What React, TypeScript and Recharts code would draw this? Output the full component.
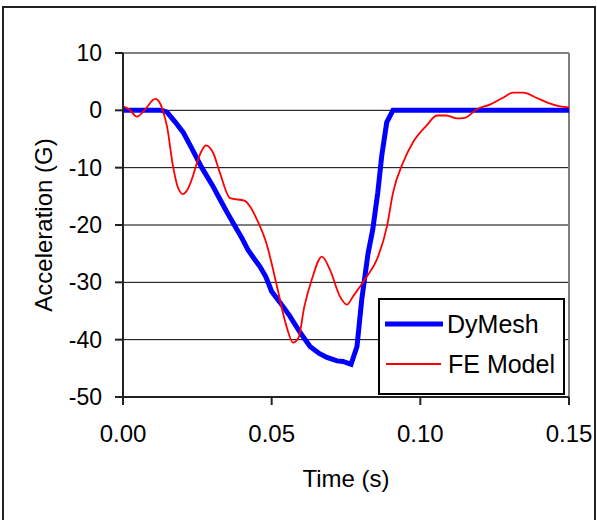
import React from "react";
import {
  LineChart,
  Line,
  XAxis,
  YAxis,
  CartesianGrid,
  ReferenceLine,
  Legend,
} from "recharts";

// Time samples (s) and acceleration (G) for each model
const dyMeshTime = [
  0, 0.013, 0.0148, 0.0175, 0.0202, 0.023, 0.0265, 0.03, 0.0326, 0.035, 0.037,
  0.04, 0.042, 0.044, 0.046, 0.048, 0.05, 0.0528, 0.056, 0.0595, 0.0629, 0.066,
  0.0686, 0.072, 0.074, 0.0767, 0.0787, 0.0803, 0.0824, 0.084, 0.0857, 0.087,
  0.0887, 0.0908, 0.15,
];
const dyMeshAccel = [
  0, 0, -0.3, -2, -3.8, -6.5, -10, -13, -15.5, -17.8, -19.6, -22.3, -24.3,
  -25.8, -27.2, -29, -31.6, -33.5, -35.8, -38.7, -41.2, -42.4, -43.1, -43.7,
  -43.8, -44.3, -41.2, -33, -25, -20.8, -14.3, -8, -2.1, 0, 0,
];

const feTime = [
  0, 0.002, 0.0047, 0.0075, 0.0108, 0.0125, 0.0135, 0.0148, 0.0168, 0.0185,
  0.0202, 0.0215, 0.0235, 0.0249, 0.0265, 0.0279, 0.0303, 0.0326, 0.036, 0.041,
  0.043, 0.045, 0.0484, 0.0505, 0.052, 0.055, 0.0572, 0.059, 0.061, 0.0635,
  0.0669, 0.0696, 0.073, 0.0753, 0.0773, 0.082, 0.0854, 0.0888, 0.0908, 0.0942,
  0.0975, 0.102, 0.1056, 0.1087, 0.1123, 0.115, 0.119, 0.1234, 0.1278, 0.1312,
  0.1346, 0.139, 0.1425, 0.147, 0.15,
];
const feAccel = [
  0.7, 0.2, -1.1, 0.2, 2.0, 1.2, -0.2, -2.8, -9.7, -13.5, -14.6, -14, -11.5,
  -9.1, -7, -6.1, -7.4, -10.9, -15.3, -15.8, -17, -19, -23.5, -27.8, -31.2,
  -37.7, -40.5, -39.7, -34.2, -29.5, -25.5, -27.8, -32.5, -33.9, -32.5, -29,
  -26, -20.2, -14.4, -9.1, -5.6, -2.7, -0.9, -0.9, -1.4, -1.3, 0.2, 1.0, 2.2,
  3.1, 3.1, 2.2, 1.4, 0.7, 0.5,
];

const xTicks = [0, 0.05, 0.1, 0.15];
const yTicks = [-50, -40, -30, -20, -10, 0, 10];

const seriesNames = ["DyMesh", "FE Model"];

const dyMeshRows = dyMeshTime.map((t, i) => ({ time: t, accel: dyMeshAccel[i] }));
const feRows = feTime.map((t, i) => ({ time: t, accel: feAccel[i] }));

const FONT = "'Liberation Sans', Arial, sans-serif";

function LegendBox(props: any) {
  const payload = props.payload || [];
  return (
    <div
      style={{
        width: 187,
        height: 97,
        boxSizing: "border-box",
        border: "2px solid #000",
        background: "#fff",
        fontFamily: FONT,
      }}
    >
      <svg width={183} height={93}>
        {payload.map((entry: any, i: number) => {
          const y = 24 + i * 40;
          const thick = i === 0;
          return (
            <g key={entry.value}>
              <line
                x1={thick ? 5 : 6}
                x2={thick ? 63 : 61}
                y1={y}
                y2={y}
                stroke={entry.color}
                strokeWidth={thick ? 5 : 2}
              />
              <text
                x={thick ? 67 : 68}
                y={y}
                dy="0.36em"
                fontSize={25}
                fill="#000"
                fontFamily={FONT}
              >
                {entry.value}
              </text>
            </g>
          );
        })}
      </svg>
    </div>
  );
}

export default function App() {
  return (
    <div
      style={{
        position: "absolute",
        left: 0,
        top: 0,
        width: 597,
        height: 520,
        overflow: "hidden",
        background: "#fff",
      }}
    >
      <div
        style={{
          position: "absolute",
          left: 2,
          top: 6,
          width: 594,
          height: 530,
          boxSizing: "border-box",
          border: "2px solid #222",
        }}
      />
      <div style={{ position: "absolute", left: 0, top: 0 }}>
        <LineChart
          width={597}
          height={520}
          margin={{ top: 53, right: 28, left: 43, bottom: 63 }}
          style={{ fontFamily: FONT }}
        >
          <CartesianGrid vertical={false} stroke="#000" strokeWidth={1} />
          <XAxis
            dataKey="time"
            type="number"
            domain={[0, 0.15]}
            ticks={xTicks}
            height={60}
            tickSize={8}
            tickMargin={20}
            allowDuplicatedCategory={false}
            tickFormatter={(v: number) => v.toFixed(2)}
            tick={{ fill: "#000", fontSize: 24, fontFamily: FONT }}
            axisLine={{ stroke: "#222", strokeWidth: 2 }}
            tickLine={{ stroke: "#222", strokeWidth: 2 }}
            label={{
              content: (p: any) => {
                const vb = p.viewBox;
                return (
                  <text
                    x={vb.x + vb.width / 2}
                    y={487}
                    textAnchor="middle"
                    fontSize={24}
                    fill="#000"
                    fontFamily={FONT}
                  >
                    Time (s)
                  </text>
                );
              },
            }}
          />
          <YAxis
            type="number"
            domain={[-50, 10]}
            ticks={yTicks}
            width={80}
            tickSize={8}
            tickMargin={13}
            interval={0}
            tick={{ fill: "#000", fontSize: 23, fontFamily: FONT }}
            axisLine={{ stroke: "#222", strokeWidth: 2 }}
            tickLine={{ stroke: "#222", strokeWidth: 2 }}
            label={{
              content: (p: any) => {
                const vb = p.viewBox;
                const cy = vb.y + vb.height / 2;
                return (
                  <text
                    x={52}
                    y={cy}
                    textAnchor="middle"
                    transform={`rotate(-90, 52, ${cy})`}
                    fontSize={24}
                    fill="#000"
                    fontFamily={FONT}
                  >
                    Acceleration (G)
                  </text>
                );
              },
            }}
          />
          <ReferenceLine y={10} stroke="#808080" strokeWidth={2} />
          <ReferenceLine x={0.15} stroke="#808080" strokeWidth={2} />
          <Legend
            layout="horizontal"
            verticalAlign="middle"
            align="center"
            wrapperStyle={{ left: 378, top: 298, width: 187, height: 97 }}
            content={(p: any) => <LegendBox {...p} />}
          />
          <Line
            name={seriesNames[0]}
            data={dyMeshRows}
            dataKey="accel"
            type="linear"
            stroke="#0000ff"
            strokeWidth={5}
            dot={false}
            isAnimationActive={false}
          />
          <Line
            name={seriesNames[1]}
            data={feRows}
            dataKey="accel"
            type="monotone"
            stroke="#ff0000"
            strokeWidth={1.8}
            dot={false}
            isAnimationActive={false}
          />
        </LineChart>
      </div>
    </div>
  );
}
